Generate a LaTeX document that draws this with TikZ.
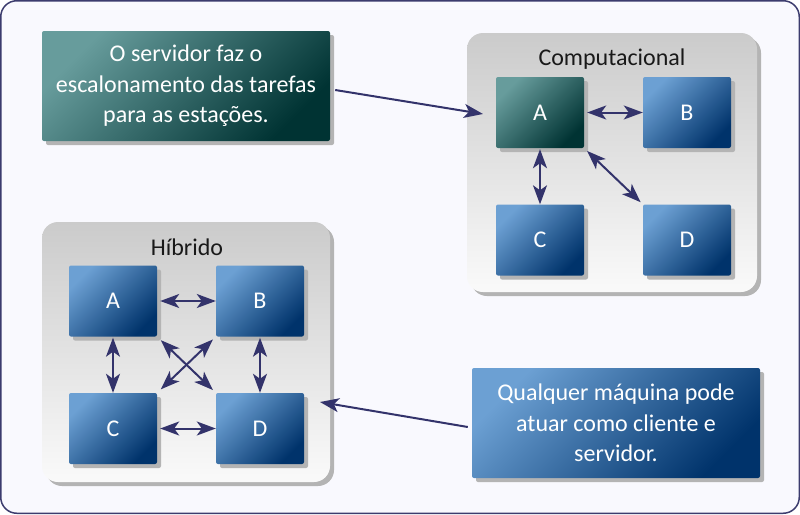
\documentclass[tikz,border=0pt]{standalone}
\usepackage{fontspec}
\setmainfont{Carlito}
\usetikzlibrary{arrows.meta,shadows}
\definecolor{frameline}{HTML}{3C3C6E}
\definecolor{framefill}{HTML}{F9F9FE}
\definecolor{tealA}{HTML}{679C9C}
\definecolor{tealB}{HTML}{003333}
\definecolor{blueA}{HTML}{6CA0D3}
\definecolor{blueB}{HTML}{00336B}
\definecolor{arrowc}{HTML}{33336B}
\definecolor{contTop}{HTML}{CBCBCB}
\definecolor{contBot}{HTML}{FAFAFA}
\definecolor{shadowc}{HTML}{B4B4B4}
\begin{document}
\begin{tikzpicture}[x=1pt,y=-1pt,
  >={Stealth[length=19pt,width=14pt,inset=5pt]},
  sh/.style={drop shadow={shadow xshift=4pt,shadow yshift=-4pt,fill=shadowc,opacity=1}},
  txt/.style={font=\fontsize{24}{30.5}\selectfont, align=center},
  tealbox/.style={sh, rounded corners=2pt, top color=tealA, bottom color=tealB, shading angle=45, text=white, inner sep=0pt, txt},
  bluebox/.style={sh, rounded corners=2pt, top color=blueA, bottom color=blueB, shading angle=45, text=white, inner sep=0pt, txt},
  pcbox/.style={minimum width=88pt, minimum height=71pt},
  notebox/.style={minimum width=288pt, minimum height=110pt},
  container/.style={sh, rounded corners=16pt, top color=contTop, bottom color=contBot, inner sep=0pt},
  ttl/.style={txt, text=black!90, inner sep=0pt},
  conn/.style={draw=arrowc, line width=2pt, <->},
  link/.style={draw=arrowc, line width=2pt, ->}
]
\useasboundingbox (0,0) rectangle (800,514);
\draw[frameline, fill=framefill, line width=1.5pt, rounded corners=16pt] (0.75,0.75) rectangle (799.25,513.25);

% containers
\node[container, minimum width=290pt, minimum height=259pt] (comp) at (612,162.5) {};
\node[container, minimum width=288pt, minimum height=260pt] (hyb) at (186,352) {};
\node[ttl] (comptitle) at (612,59) {Computacional};
\node[ttl] (hybtitle) at (187,247) {Híbrido};

% notes
\node[tealbox, notebox] (note1) at (186,86) {O servidor faz o\\escalonamento das tarefas\\para as estações.};
\node[bluebox, notebox] (note2) at (616,423) {Qualquer máquina pode\\atuar como cliente e\\servidor.};

% computacional
\node[tealbox, pcbox] (cA) at (540,112.5) {A};
\node[bluebox, pcbox] (cB) at (687,112.5) {B};
\node[bluebox, pcbox] (cC) at (540,240) {C};
\node[bluebox, pcbox] (cD) at (687,240) {D};

% hibrido
\node[bluebox, pcbox] (hA) at (113,301) {A};
\node[bluebox, pcbox] (hB) at (260,301) {B};
\node[bluebox, pcbox] (hC) at (113,428.5) {C};
\node[bluebox, pcbox] (hD) at (260,428.5) {D};

% connectors computacional
\draw[conn, shorten <=3pt] (cA.east) -- (cB.west);
\draw[conn, shorten <=1pt] (cA.south) -- (cC.north);
\draw[conn, shorten <=4pt, shorten >=3pt] (cA.south east) -- (cD.north west);

% connectors hibrido
\draw[conn, shorten <=3pt] (hA.east) -- (hB.west);
\draw[conn, shorten <=3pt] (hC.east) -- (hD.west);
\draw[conn, shorten <=1pt] (hA.south) -- (hC.north);
\draw[conn, shorten <=1pt] (hB.south) -- (hD.north);
\draw[conn, shorten <=5pt, shorten >=4pt] (hA.south east) -- (hD.north west);
\draw[conn, shorten <=4pt, shorten >=5pt] (hB.south west) -- (hC.north east);

% note connectors
\coordinate (comptip) at (483,114);
\coordinate (hybtip) at (320,402);
\draw[link] ([xshift=5pt,yshift=-4pt]note1.east) -- (comptip);
\draw[link] ([xshift=-4pt,yshift=-4pt]note2.west) -- (hybtip);
\end{tikzpicture}
\end{document}
